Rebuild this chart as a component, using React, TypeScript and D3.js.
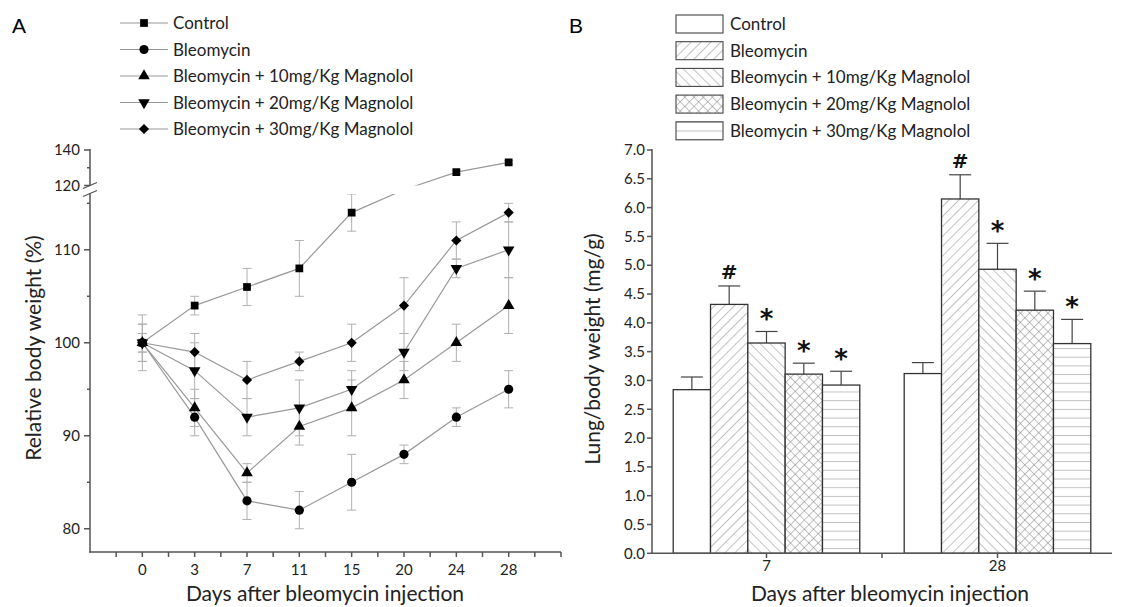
import * as d3 from "d3";
import { useEffect, useRef } from "react";

const days = ["0", "3", "7", "11", "15", "20", "24", "28"];
const groups = [
  "Control",
  "Bleomycin",
  "Bleomycin + 10mg/Kg Magnolol",
  "Bleomycin + 20mg/Kg Magnolol",
  "Bleomycin + 30mg/Kg Magnolol",
];

// Panel A - relative body weight (%)
const controlWeight = [100, 104, 106, 108, 114, 118, 127.5, 133];
const controlWeightErr = [2, 1, 2, 3, 2, 1, 1, 1];
const bleoWeight = [100, 92, 83, 82, 85, 88, 92, 95];
const bleoWeightErr = [3, 2, 2, 2, 3, 1, 1, 2];
const mg10Weight = [100, 93, 86, 91, 93, 96, 100, 104];
const mg10WeightErr = [1, 2, 1, 2, 3, 2, 2, 3];
const mg20Weight = [100, 97, 92, 93, 95, 99, 108, 110];
const mg20WeightErr = [2, 3, 2, 3, 2, 2, 1, 3];
const mg30Weight = [100, 99, 96, 98, 100, 104, 111, 114];
const mg30WeightErr = [1, 2, 2, 1, 2, 3, 2, 1];

// Panel B - lung/body weight (mg/g)
const bDays = ["7", "28"];
const controlRatio = [2.84, 3.12];
const controlRatioErr = [0.22, 0.19];
const bleoRatio = [4.32, 6.15];
const bleoRatioErr = [0.32, 0.42];
const mg10Ratio = [3.65, 4.93];
const mg10RatioErr = [0.2, 0.45];
const mg20Ratio = [3.11, 4.22];
const mg20RatioErr = [0.19, 0.33];
const mg30Ratio = [2.92, 3.64];
const mg30RatioErr = [0.24, 0.42];
const significance = ["", "#", "*", "*", "*"];

const FONT = "Lato, 'Open Sans', sans-serif";

const App = () => {
  const svgRef = useRef<SVGSVGElement>(null);

  useEffect(() => {
    const svg = d3.select(svgRef.current);
    svg.selectAll("*").remove();

    const weights = [controlWeight, bleoWeight, mg10Weight, mg20Weight, mg30Weight];
    const weightErrs = [controlWeightErr, bleoWeightErr, mg10WeightErr, mg20WeightErr, mg30WeightErr];
    const ratios = [controlRatio, bleoRatio, mg10Ratio, mg20Ratio, mg30Ratio];
    const ratioErrs = [controlRatioErr, bleoRatioErr, mg10RatioErr, mg20RatioErr, mg30RatioErr];

    const axisColor = "#555";
    const lineColor = "#999";
    const errColor = "#b0b0b0";

    // ---------- patterns ----------
    const defs = svg.append("defs");
    const hatch = (id: string, angle: number, size: number) => {
      const p = defs
        .append("pattern")
        .attr("id", id)
        .attr("patternUnits", "userSpaceOnUse")
        .attr("width", size)
        .attr("height", size)
        .attr("patternTransform", `rotate(${angle})`);
      p.append("line")
        .attr("x1", 0).attr("y1", 0).attr("x2", 0).attr("y2", size)
        .attr("stroke", "#777").attr("stroke-width", 0.9);
      return p;
    };
    hatch("p-fwd", 45, 7);
    hatch("p-back", -45, 7);
    const cross = hatch("p-cross", 45, 6.5);
    cross.append("line")
      .attr("x1", 0).attr("y1", 0).attr("x2", 6.5).attr("y2", 0)
      .attr("stroke", "#777").attr("stroke-width", 0.9);
    hatch("p-horiz", 90, 8.7);
    const fills = ["#fff", "url(#p-fwd)", "url(#p-back)", "url(#p-cross)", "url(#p-horiz)"];

    // clip that hides the axis-break gap in panel A
    const clip = defs.append("clipPath").attr("id", "break-clip");
    clip.append("rect").attr("x", 60).attr("y", 0).attr("width", 520).attr("height", 185.5);
    clip.append("rect").attr("x", 60).attr("y", 194).attr("width", 520).attr("height", 400);

    // ---------- panel labels ----------
    svg.append("text").attr("x", 12).attr("y", 33).text("A")
      .attr("font-family", "'Liberation Sans', Arial, sans-serif").attr("font-size", 21);
    svg.append("text").attr("x", 569).attr("y", 33).text("B")
      .attr("font-family", "'Liberation Sans', Arial, sans-serif").attr("font-size", 21);

    // ---------- Panel A ----------
    const xA = d3.scaleLinear().domain([-1, 8]).range([90, 561]);
    // broken axis: 77.5-116 lower segment, 120-140 upper segment
    const yA = d3.scaleLinear().domain([77.5, 116, 120, 140]).range([552, 194, 185.5, 150]);

    const symbols = [
      { type: d3.symbolSquare, size: 60, rot: 0 },
      { type: d3.symbolCircle, size: 66, rot: 0 },
      { type: d3.symbolTriangle, size: 58, rot: 0 },
      { type: d3.symbolTriangle, size: 58, rot: 180 },
      { type: d3.symbolSquare, size: 52, rot: 45 },
    ];

    // axes A
    const axA = svg.append("g").attr("stroke", axisColor).attr("stroke-width", 1.5);
    axA.append("line").attr("x1", 90).attr("x2", 90).attr("y1", 149).attr("y2", 185.5);
    axA.append("line").attr("x1", 90).attr("x2", 90).attr("y1", 193).attr("y2", 552.75);
    axA.append("line").attr("x1", 89.25).attr("x2", 561).attr("y1", 552).attr("y2", 552);
    // break slashes
    axA.append("line").attr("x1", 83).attr("y1", 188.5).attr("x2", 97).attr("y2", 182.5).attr("stroke-width", 1.3);
    axA.append("line").attr("x1", 83).attr("y1", 196.5).attr("x2", 97).attr("y2", 190.5).attr("stroke-width", 1.3);

    const majorYA = [80, 90, 100, 110, 120, 140];
    const minorYA = [85, 95, 105, 115, 130];
    majorYA.forEach((v) => {
      axA.append("line").attr("x1", 84).attr("x2", 90).attr("y1", yA(v)).attr("y2", yA(v));
      svg.append("text").attr("x", 80).attr("y", yA(v)).attr("dy", "0.35em")
        .attr("text-anchor", "end").attr("font-family", FONT).attr("font-size", 15).attr("fill", "#222")
        .text(v);
    });
    minorYA.forEach((v) => {
      axA.append("line").attr("x1", 87).attr("x2", 90).attr("y1", yA(v)).attr("y2", yA(v));
    });
    d3.range(-0.5, 8.01, 0.5).forEach((t) => {
      axA.append("line").attr("x1", xA(t)).attr("x2", xA(t)).attr("y1", 552).attr("y2", 557);
    });
    days.forEach((d, i) => {
      svg.append("text").attr("x", xA(i)).attr("y", 575).attr("text-anchor", "middle")
        .attr("font-family", FONT).attr("font-size", 15).attr("fill", "#222").text(d);
    });
    svg.append("text").attr("x", 325).attr("y", 601).attr("text-anchor", "middle")
      .attr("font-family", FONT).attr("font-size", 21).attr("fill", "#222")
      .text("Days after bleomycin injection");
    svg.append("text").attr("transform", "translate(41,348) rotate(-90)").attr("text-anchor", "middle")
      .attr("font-family", FONT).attr("font-size", 21).attr("fill", "#222")
      .text("Relative body weight (%)");

    const plotA = svg.append("g").attr("clip-path", "url(#break-clip)");
    // error bars
    weights.forEach((series, s) => {
      const g = plotA.append("g").attr("stroke", errColor).attr("stroke-width", 1);
      series.forEach((v, i) => {
        const e = weightErrs[s][i];
        const x = xA(i);
        g.append("line").attr("x1", x).attr("x2", x).attr("y1", yA(v - e)).attr("y2", yA(v + e));
        g.append("line").attr("x1", x - 4.5).attr("x2", x + 4.5).attr("y1", yA(v - e)).attr("y2", yA(v - e));
        g.append("line").attr("x1", x - 4.5).attr("x2", x + 4.5).attr("y1", yA(v + e)).attr("y2", yA(v + e));
      });
    });
    // lines
    const lineA = d3.line<number>().x((_, i) => xA(i)).y((d) => yA(d));
    weights.forEach((series) => {
      plotA.append("path").datum(series).attr("d", lineA)
        .attr("fill", "none").attr("stroke", lineColor).attr("stroke-width", 1.2);
    });
    // markers
    weights.forEach((series, s) => {
      const sym = d3.symbol().type(symbols[s].type).size(symbols[s].size);
      plotA.append("g").selectAll("path").data(series).enter().append("path")
        .attr("d", sym)
        .attr("transform", (d, i) => `translate(${xA(i)},${yA(d)}) rotate(${symbols[s].rot})`)
        .attr("fill", "#000");
    });

    // legend A
    groups.forEach((name, s) => {
      const cy = 23 + s * 26.5;
      svg.append("line").attr("x1", 120).attr("x2", 168).attr("y1", cy).attr("y2", cy)
        .attr("stroke", lineColor).attr("stroke-width", 1.2);
      const sym = d3.symbol().type(symbols[s].type).size(symbols[s].size);
      svg.append("path").attr("d", sym())
        .attr("transform", `translate(144,${cy}) rotate(${symbols[s].rot})`).attr("fill", "#000");
      svg.append("text").attr("x", 173).attr("y", cy + 6).attr("font-family", FONT)
        .attr("font-size", 17).attr("fill", "#222").text(name);
    });

    // ---------- Panel B ----------
    const yB = d3.scaleLinear().domain([0, 7]).range([553.3, 150]);
    const x0 = d3.scaleBand().domain(bDays).range([651, 1113]);
    const inset = (x0.bandwidth() - 186.6) / 2;
    const x1 = d3.scaleBand().domain(groups).range([inset, x0.bandwidth() - inset]);

    const bars = svg.append("g");
    bDays.forEach((day, di) => {
      groups.forEach((name, s) => {
        const v = ratios[s][di];
        const e = ratioErrs[s][di];
        const x = (x0(day) as number) + (x1(name) as number);
        const w = x1.bandwidth();
        const cx = x + w / 2;
        // error bar (upper half)
        bars.append("line").attr("x1", cx).attr("x2", cx).attr("y1", yB(v)).attr("y2", yB(v + e))
          .attr("stroke", "#444").attr("stroke-width", 1.2);
        bars.append("line").attr("x1", cx - 11).attr("x2", cx + 11).attr("y1", yB(v + e)).attr("y2", yB(v + e))
          .attr("stroke", "#444").attr("stroke-width", 1.2);
        bars.append("rect").attr("x", x).attr("y", yB(v)).attr("width", w).attr("height", yB(0) - yB(v))
          .attr("fill", "#fff").attr("stroke", "none");
        bars.append("rect").attr("x", x).attr("y", yB(v)).attr("width", w).attr("height", yB(0) - yB(v))
          .attr("fill", fills[s]).attr("stroke", "#333").attr("stroke-width", 1.3);
        const mark = significance[s];
        if (mark === "#") {
          bars.append("text").attr("x", cx).attr("y", yB(v + e) - 7)
            .attr("text-anchor", "middle").attr("font-family", "'DejaVu Sans', sans-serif")
            .attr("font-size", 20).attr("font-weight", "bold").attr("fill", "#111").text(mark);
        } else if (mark) {
          bars.append("text").attr("x", cx).attr("y", yB(v + e) - 3)
            .attr("text-anchor", "middle").attr("font-family", "'DejaVu Sans', sans-serif")
            .attr("font-size", 26).attr("font-weight", "bold").attr("fill", "#111").text(mark);
        }
      });
    });

    // axes B
    const axB = svg.append("g").attr("stroke", axisColor).attr("stroke-width", 1.5);
    axB.append("line").attr("x1", 652).attr("x2", 652).attr("y1", 149).attr("y2", 554);
    axB.append("line").attr("x1", 651.25).attr("x2", 1112).attr("y1", 553.3).attr("y2", 553.3);
    d3.range(0, 7.01, 0.5).forEach((t) => {
      axB.append("line").attr("x1", 647).attr("x2", 652).attr("y1", yB(t)).attr("y2", yB(t));
      svg.append("text").attr("x", 645).attr("y", yB(t)).attr("dy", "0.35em").attr("text-anchor", "end")
        .attr("font-family", FONT).attr("font-size", 15).attr("fill", "#222").text(d3.format(".1f")(t));
    });
    bDays.forEach((d) => {
      const cx = (x0(d) as number) + x0.bandwidth() / 2;
      axB.append("line").attr("x1", cx).attr("x2", cx).attr("y1", 553.3).attr("y2", 558);
      svg.append("text").attr("x", cx).attr("y", 571).attr("text-anchor", "middle")
        .attr("font-family", FONT).attr("font-size", 15).attr("fill", "#222").text(d);
    });
    const mid = x0(bDays[1]) as number;
    axB.append("line").attr("x1", mid).attr("x2", mid).attr("y1", 553.3).attr("y2", 558);
    svg.append("text").attr("x", 890).attr("y", 601).attr("text-anchor", "middle")
      .attr("font-family", FONT).attr("font-size", 21).attr("fill", "#222")
      .text("Days after bleomycin injection");
    svg.append("text").attr("transform", "translate(600,349) rotate(-90)").attr("text-anchor", "middle")
      .attr("font-family", FONT).attr("font-size", 21).attr("fill", "#222")
      .text("Lung/body weight (mg/g)");

    // legend B
    groups.forEach((name, s) => {
      const cy = 24 + s * 26.7;
      svg.append("rect").attr("x", 676).attr("y", cy - 9).attr("width", 47).attr("height", 18)
        .attr("fill", fills[s]).attr("stroke", "#444").attr("stroke-width", 1.1);
      svg.append("text").attr("x", 730).attr("y", cy + 6).attr("font-family", FONT)
        .attr("font-size", 17).attr("fill", "#222").text(name);
    });
  }, []);

  return (
    <svg
      ref={svgRef}
      width={1141}
      height={607}
      style={{ position: "absolute", left: 0, top: 0, background: "#fff" }}
    ></svg>
  );
};

export default App;
